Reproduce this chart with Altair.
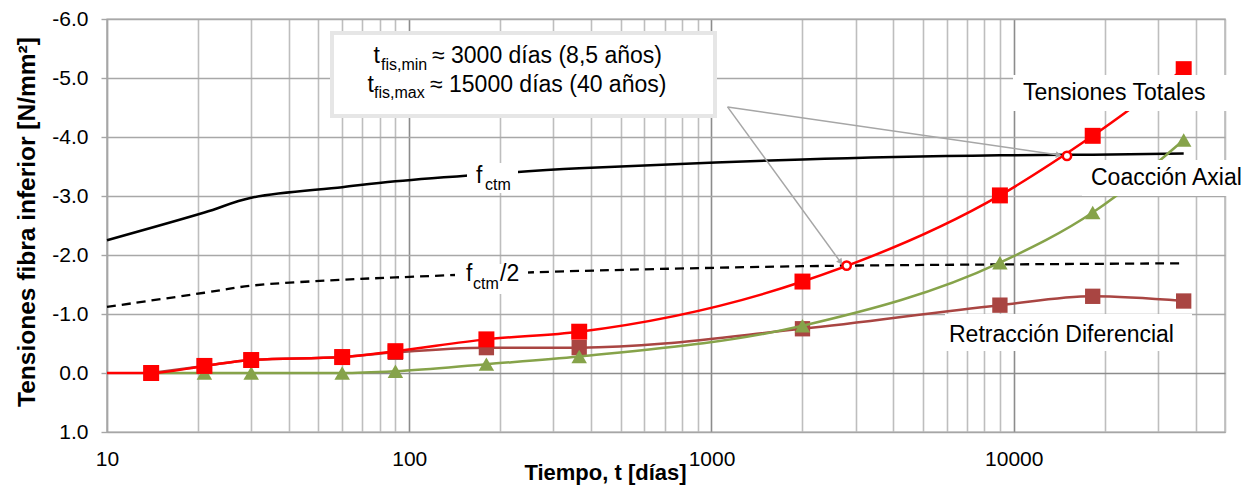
import altair as alt
import pandas as pd

# ---------------- data ----------------
t_pts = [14, 21, 30, 60, 90, 180, 365, 2000, 9000, 18250, 36500]
tens_totales = [0.0, -0.12, -0.22, -0.27, -0.37, -0.57, -0.70, -1.55, -3.01, -4.02, -5.15]
retraccion = [0.0, -0.12, -0.22, -0.27, -0.35, -0.43, -0.43, -0.75, -1.15, -1.30, -1.22]
coaccion = [0.0, 0.0, 0.0, 0.0, -0.03, -0.15, -0.28, -0.80, -1.87, -2.72, -3.95]
t_total_start = [10]
v_total_start = [0.0]

t_fctm = [10, 21, 30, 60, 90, 180, 365, 2000, 9000, 18250, 36500]
fctm = [-2.25, -2.72, -2.97, -3.15, -3.25, -3.37, -3.47, -3.62, -3.69, -3.70, -3.72]
fctm_half = [-1.12, -1.36, -1.48, -1.58, -1.62, -1.68, -1.73, -1.81, -1.84, -1.85, -1.86]

t_cross = [2800, 15000]
v_cross = [-1.82, -3.68]

arrow_start_t = 1130
arrow_start_v = -4.51
arrow_end_t = [14090, 2673]
arrow_end_v = [-3.695, -1.88]

x_label_ticks = [10, 100, 1000, 10000]
x_grid_ticks = [10, 20, 30, 40, 50, 60, 70, 80, 90,
                100, 200, 300, 400, 500, 600, 700, 800, 900,
                1000, 2000, 3000, 4000, 5000, 6000, 7000, 8000, 9000,
                10000, 20000, 30000, 40000, 50000]
y_ticks = [-6, -5, -4, -3, -2, -1, 0, 1]

FONT = "Liberation Sans"
RED = "#FF0000"
BROWN = "#A94542"
GREEN = "#86A34A"
GRAY = "#A6A6A6"

# plot-area origin on the page
OX, OY = 107, 19
W, H = 1118, 413

# ---------------- scales / axes ----------------
xs = alt.Scale(type="log", domain=[10, 50000], nice=False)
ys = alt.Scale(domain=[-6, 1], reverse=True, nice=False, zero=False)

x_axis = alt.Axis(
    values=x_grid_ticks,
    labelExpr="indexof([10,100,1000,10000], datum.value) >= 0 ? format(datum.value, 'd') : ''",
    labelOverlap=False, labelFlush=False,
    labelFont=FONT, labelFontSize=21, labelColor="black", labelPadding=16,
    ticks=False,
    domainColor=GRAY,
    grid=True,
    gridColor={"condition": {"test": "indexof([10,100,1000,10000], datum.value) >= 0", "value": "#8C8C8C"},
               "value": "#BEBEBE"},
    gridWidth=1.6,
    title="Tiempo, t [días]",
    titleFont=FONT, titleFontSize=22, titleFontWeight="bold", titleColor="black",
    titleX=605 - OX, titleY=479 - (OY + H), titleBaseline="alphabetic", titleAlign="center",
)
y_axis = alt.Axis(
    values=y_ticks,
    labelExpr="(datum.value < 0 ? '-' : '') + format(abs(datum.value), '.1f')",
    labelFont=FONT, labelFontSize=21, labelColor="black", labelPadding=13,
    tickSize=6, tickColor=GRAY, tickWidth=1.4,
    domainColor=GRAY,
    grid=True,
    gridColor={"condition": {"test": "datum.value == 0", "value": "#8C8C8C"}, "value": "#A8A8A8"},
    gridWidth=1.4,
    title="Tensiones fibra inferior [N/mm²]",
    titleFont=FONT, titleFontSize=24.5, titleFontWeight="bold", titleColor="black",
    titleX=27 - OX, titleY=H / 2 - 4, titleBaseline="middle", titleAlign="center", titleAngle=270,
)

X = alt.X("t:Q", scale=xs, axis=x_axis)
Y = alt.Y("v:Q", scale=ys, axis=y_axis)


def series(ts, vs):
    return pd.DataFrame({"t": ts, "v": vs})


one = pd.DataFrame({"k": [0]})


def txt(s, x, y, size=21, align="left", baseline="alphabetic", bold=False):
    return alt.Chart(one).mark_text(
        text=s, align=align, baseline=baseline, font=FONT, fontSize=size,
        fontWeight="bold" if bold else "normal", color="black",
    ).encode(x=alt.value(x - OX), y=alt.value(y - OY))


def box(x0, y0, x1, y1, stroke=None, sw=0):
    kw = dict(fill="white")
    if stroke is not None:
        kw.update(stroke=stroke, strokeWidth=sw)
    return alt.Chart(one).mark_rect(**kw).encode(
        x=alt.value(x0 - OX), x2=alt.value(x1 - OX),
        y=alt.value(y0 - OY), y2=alt.value(y1 - OY),
    )


df_f = series(t_fctm, fctm)
df_fh = series(t_fctm, fctm_half)
df_tot_line = series(t_total_start + t_pts, v_total_start + tens_totales)
df_tot = series(t_pts, tens_totales)
df_ret = series(t_pts, retraccion)
df_coa = series(t_pts, coaccion)
df_cross = series(t_cross, v_cross)
df_arrows = pd.DataFrame({
    "t": [arrow_start_t, arrow_end_t[0], arrow_start_t, arrow_end_t[1]],
    "v": [arrow_start_v, arrow_end_v[0], arrow_start_v, arrow_end_v[1]],
    "a": ["a1", "a1", "a2", "a2"],
})

base_grid = alt.Chart(df_f).mark_line(opacity=0).encode(x=X, y=Y)

fctm_line = alt.Chart(df_f).mark_line(color="black", strokeWidth=2.5, interpolate="catmull-rom").encode(x=X, y=Y)
half_line = alt.Chart(df_fh).mark_line(color="black", strokeWidth=2.3, strokeDash=[9, 6],
                                         interpolate="catmull-rom").encode(x=X, y=Y)

# labels on the fctm curves
f_labels = [
    box(467, 163, 518, 193),
    txt("f", 476, 183, 23),
    txt("ctm", 485, 190, 16),
    box(455, 264, 528, 294),
    txt("f", 466, 281, 23),
    txt("ctm", 473, 289, 16),
    txt("/2", 500, 281, 23),
]


def line_pts(df_line, df_pts, color, shape, size):
    ln = alt.Chart(df_line).mark_line(color=color, strokeWidth=2.5, interpolate="monotone").encode(x=X, y=Y)
    pt = alt.Chart(df_pts).mark_point(shape=shape, filled=True, color=color, opacity=1, size=size,
                                      strokeWidth=0).encode(x=X, y=Y)
    return [ln, pt]


ret_layers = line_pts(df_ret, df_ret, BROWN, "square", 235)
coa_layers = line_pts(df_coa, df_coa, GREEN, "triangle-up", 240)
tot_layers = line_pts(df_tot_line, df_tot, RED, "square", 255)

arrow_lines = alt.Chart(df_arrows).mark_line(color=GRAY, strokeWidth=1.5).encode(x=X, y=Y, detail="a:N")
head1 = alt.Chart(series([arrow_end_t[0]], [arrow_end_v[0]])).mark_point(
    shape="triangle-right", filled=True, color=GRAY, opacity=1, size=45, angle=8).encode(x=X, y=Y)
head2 = alt.Chart(series([arrow_end_t[1]], [arrow_end_v[1]])).mark_point(
    shape="triangle-right", filled=True, color=GRAY, opacity=1, size=45, angle=54).encode(x=X, y=Y)

cross_pts = alt.Chart(df_cross).mark_point(shape="circle", filled=True, fill="white", stroke=RED,
                                           strokeWidth=2.5, size=70, opacity=1).encode(x=X, y=Y)

annotation = [
    box(332, 33, 715, 116, stroke="#E6E6E6", sw=4),
    txt("t", 380, 63, 23, align="right"),
    txt("fis,min", 381, 70, 16),
    txt("≈ 3000 días (8,5 años)", 432, 63, 23),
    txt("t", 374, 92, 23, align="right"),
    txt("fis,max", 374, 98, 16),
    txt("≈ 15000 días (40 años)", 430, 92, 23),
]

series_labels = [
    box(1013, 75, 1235, 111),
    txt("Tensiones Totales", 1023, 100, 23),
    box(1082, 160, 1259, 196),
    txt("Coacción Axial", 1091, 185, 23),
    box(945, 314, 1192, 351),
    txt("Retracción Diferencial", 949, 342, 23),
]

layers = ([base_grid, fctm_line, half_line] + f_labels + ret_layers + coa_layers + tot_layers
          + [arrow_lines, head1, head2, cross_pts] + annotation + series_labels)

chart = alt.layer(*layers).properties(
    width=W, height=H,
    autosize=alt.AutoSizeParams(type="none"),
    padding={"left": OX, "top": OY, "right": 1259 - OX - W, "bottom": 486 - OY - H},
    background="white",
).configure_view(stroke=GRAY, strokeWidth=1.4)

chart.save("out.html", embed_options={"renderer": "svg", "actions": False})
